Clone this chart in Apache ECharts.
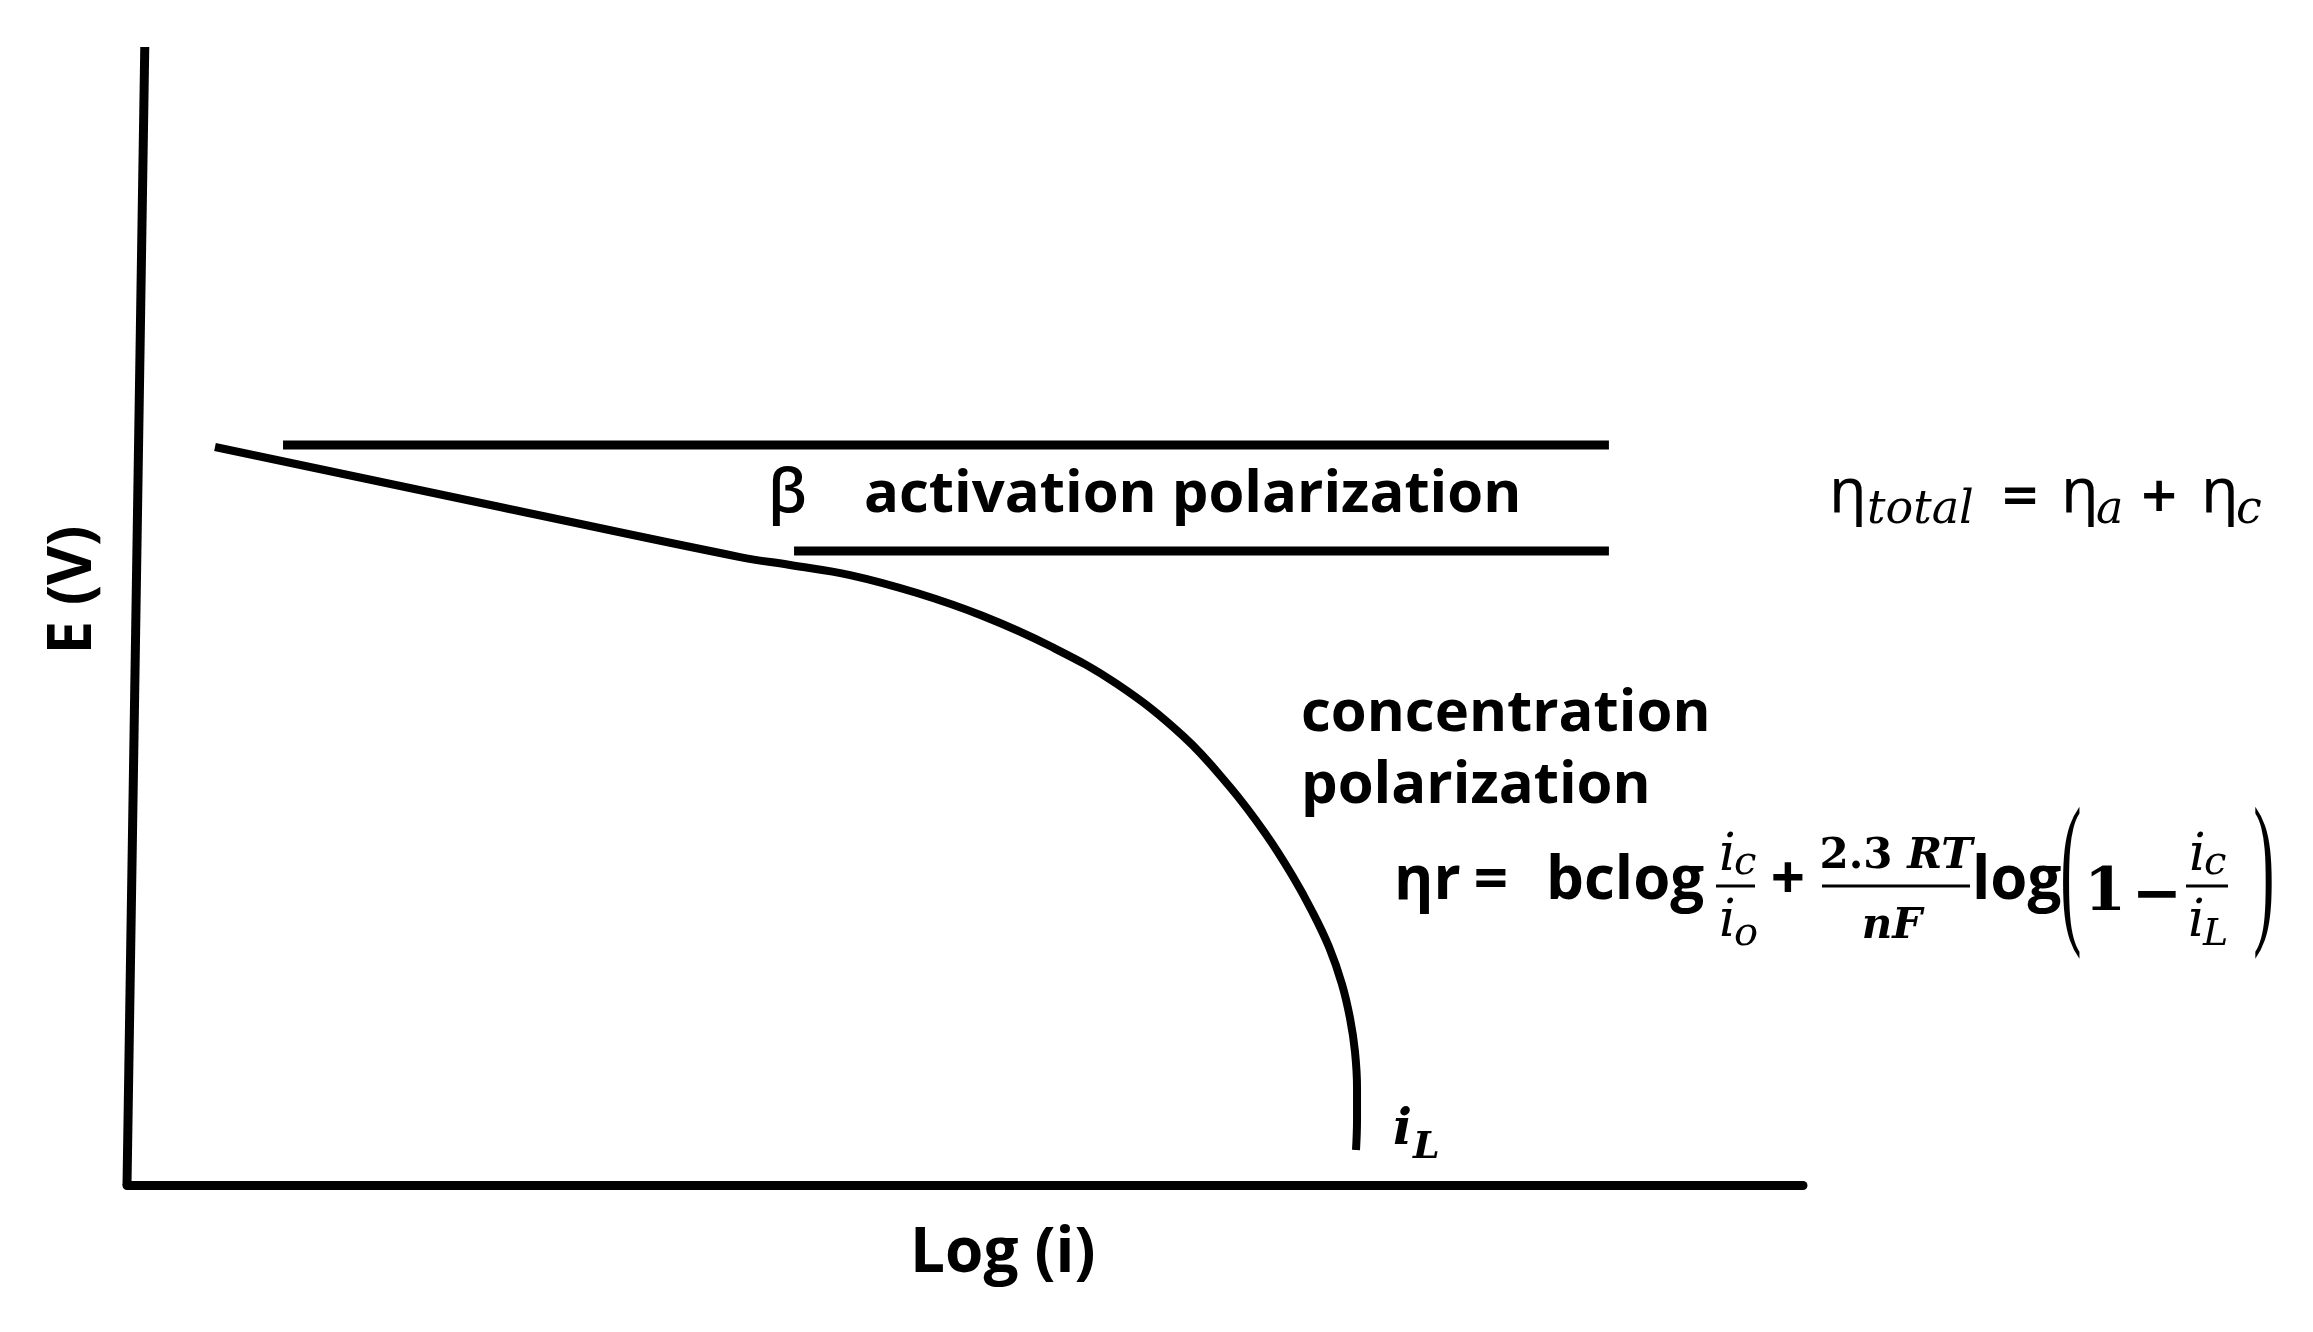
<!DOCTYPE html>
<html><head><meta charset="utf-8">
<script src="https://cdn.jsdelivr.net/npm/echarts@6/dist/echarts.min.js"></script>
<style>html,body{margin:0;padding:0;background:#fff}#c{width:2313px;height:1332px}</style>
</head><body><div id="c"></div>
<script>
// ---- data (axis units 0..100 on both axes) ----
const axisTitles = ['Log (i)', 'E (V)'];
const curveX = [5.25, 22.26, 36.58, 39.56, 43.14, 47.14, 51.07, 55.07, 59.07, 63.01, 65.81, 67.90, 69.51, 70.70, 71.72, 72.49, 72.97, 73.27, 73.39, 73.39, 73.33];
const curveY = [64.85, 59.58, 55.18, 54.48, 53.60, 52.02, 50.00, 47.36, 44.02, 39.46, 34.97, 30.93, 27.24, 24.08, 20.91, 17.66, 14.67, 11.69, 8.52, 5.71, 3.08];
const upperLineX = [9.31, 88.42];
const upperLineY = [65.03, 65.03];
const lowerLineX = [39.80, 88.42];
const lowerLineY = [55.71, 55.71];
const potentialAxisX = [0, 1.06];
const potentialAxisY = [0, 100];
const regionLabels = ['β', 'activation polarization', 'concentration', 'polarization'];

const pairs = (xs, ys) => xs.map((x, i) => [x, ys[i]]);
const lineSeries = (name, data, width, smooth) => ({
  name, type: 'line', data, smooth: smooth || false, smoothConstraint: false, symbol: 'none', showSymbol: false,
  clip: false, silent: true, animation: false,
  lineStyle: { color: '#000', width: width, cap: 'butt', join: 'round' }
});

// text helper: y given as baseline estimate -> middle
function txt(text, x, baseline, font, size, opts) {
  opts = opts || {};
  return {
    type: 'text', x: x, y: baseline - (opts.mid != null ? opts.mid : 0.3) * size,
    rotation: opts.rotation || 0, scaleX: opts.scaleX || 1, silent: true,
    style: {
      text: text, font: font.replace('SIZE', size + 'px'), fill: '#000',
      align: opts.align || 'left', verticalAlign: 'middle',
      textAlign: opts.align || 'left', textVerticalAlign: 'middle'
    }
  };
}
const SANS_B = 'bold SIZE "Open Sans"';
const SANS_SB = '600 SIZE "Open Sans"';
const ETA = 'normal SIZE "Noto Sans"';
const OPS = 'bold SIZE "DejaVu Sans"';
const SERIF_I = 'italic SIZE "DejaVu Serif"';
const SERIF_BI = 'italic bold SIZE "DejaVu Serif"';
const SERIF_B = 'bold SIZE "DejaVu Serif"';
const PAREN = 'normal SIZE "Liberation Serif"';
const bar = (x1, x2, y) => ({ type: 'line', silent: true, shape: { x1: x1, y1: y, x2: x2, y2: y }, style: { stroke: '#000', lineWidth: 3 } });

const graphics = [
  // region labels
  txt(regionLabels[0], 768, 513, SANS_SB, 60),
  txt(regionLabels[1], 864, 513, SANS_B, 58),
  txt(regionLabels[2], 1301, 732, SANS_B, 58),
  txt(regionLabels[3], 1301, 804, SANS_B, 58),
  // axis titles
  txt(axisTitles[0], 910, 1273, SANS_B, 62),
  { type: 'text', x: 74, y: 590, rotation: Math.PI / 2, silent: true,
    style: { text: axisTitles[1], font: 'bold 60px "Open Sans"', fill: '#000', align: 'center', verticalAlign: 'middle', textAlign: 'center', textVerticalAlign: 'middle' } },
  // i_L label
  txt('i', 1393, 1146, SERIF_BI, 50),
  txt('L', 1413, 1160, SERIF_BI, 38),
  // eta total formula
  txt('η', 1829, 513, ETA, 62),
  txt('total', 1867, 525, SERIF_I, 46),
  txt('=', 2020, 513, OPS, 48, { align: 'center' }),
  txt('η', 2061, 513, ETA, 62),
  txt('a', 2096, 525, SERIF_I, 46),
  txt('+', 2159, 513, OPS, 48, { align: 'center' }),
  txt('η', 2201, 513, ETA, 62),
  txt('c', 2236, 525, SERIF_I, 46),
  // eta r formula
  txt('ηr', 1394, 900, SANS_B, 60),
  txt('=', 1491, 900, SANS_B, 60, { align: 'center' }),
  txt('bclog', 1546, 900, SANS_B, 60),
  // fraction i_c / i_o
  txt('i', 1719, 872, SERIF_I, 52), txt('c', 1734, 876, SERIF_I, 40),
  bar(1716, 1755, 886),
  txt('i', 1719, 938, SERIF_I, 52), txt('o', 1734, 947, SERIF_I, 40),
  txt('+', 1788, 900, SANS_B, 60, { align: 'center' }),
  // fraction 2.3RT / nF
  { type: 'text', x: 1896, y: 870 - 13, silent: true,
    style: { text: '{n|2.3 }{v|RT}', fill: '#000', align: 'center', verticalAlign: 'middle', textAlign: 'center', textVerticalAlign: 'middle',
      rich: { n: { font: 'bold 42px "DejaVu Serif"' }, v: { font: 'italic bold 42px "DejaVu Serif"' } } } },
  bar(1822, 1970, 886),
  txt('nF', 1892, 940, SERIF_BI, 42, { align: 'center' }),
  txt('log', 1972, 900, SANS_B, 60),
  txt('(', 2071, 929, PAREN, 168, { align: 'center', scaleX: 0.38 }),
  txt('1', 2105, 912, SERIF_B, 60, { align: 'center' }),
  txt('−', 2157, 915, SERIF_B, 60, { align: 'center' }),
  // fraction i_c / i_L
  txt('i', 2189, 872, SERIF_I, 52), txt('c', 2204, 876, SERIF_I, 40),
  bar(2186, 2228, 886),
  txt('i', 2188, 938, SERIF_I, 52), txt('L', 2203, 947, SERIF_I, 38),
  txt(')', 2264, 929, PAREN, 168, { align: 'center', scaleX: 0.38 })
];

const chart = echarts.init(document.getElementById('c'), null, { renderer: 'canvas' });
chart.setOption({
  backgroundColor: '#fff',
  animation: false,
  grid: { left: 127, right: 510, top: 47, bottom: 147, containLabel: false },
  xAxis: { type: 'value', min: 0, max: 100, axisLine: { show: true, onZero: false, lineStyle: { color: '#000', width: 9 } },
    axisTick: { show: false }, axisLabel: { show: false }, splitLine: { show: false } },
  yAxis: { type: 'value', min: 0, max: 100, axisLine: { show: false }, axisTick: { show: false }, axisLabel: { show: false }, splitLine: { show: false } },
  series: [
    lineSeries('potential axis', pairs(potentialAxisX, potentialAxisY), 9),
    lineSeries('upper bound', pairs(upperLineX, upperLineY), 9),
    lineSeries('lower bound', pairs(lowerLineX, lowerLineY), 9),
    lineSeries('polarization curve', pairs(curveX, curveY), 8, 0.4)
  ],
  graphic: graphics
});
</script></body></html>
